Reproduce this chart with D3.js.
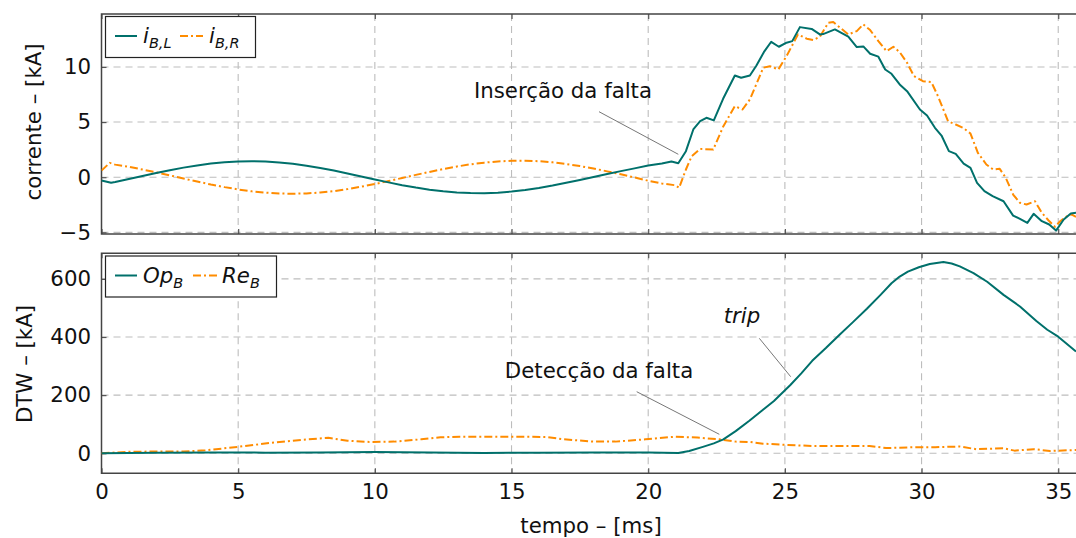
<!DOCTYPE html>
<html>
<head>
<meta charset="utf-8">
<script src="https://cdn.jsdelivr.net/npm/d3@7/dist/d3.min.js"></script>
<style>
  html, body { margin: 0; padding: 0; background: #fff; }
  svg { display: block; font-family: "DejaVu Sans", sans-serif; }
</style>
</head>
<body>
<svg id="chart" width="1076" height="538"></svg>
<script>
// Time axis [ms]
const xTicks = [0, 5, 10, 15, 20, 25, 30, 35];
const yTicksTop = [-5, 0, 5, 10];
const yTicksBottom = [0, 200, 400, 600];

// Currents on bus B, left and right terminals [kA] -> [t, value]
const iBL = [
  [0, -0.30], [0.35, -0.50], [0.5, -0.43], [1.0, -0.16], [1.5, 0.11], [2.0, 0.38], [2.5, 0.64],
  [3.0, 0.87], [3.5, 1.07], [4.0, 1.24], [4.5, 1.36], [5.0, 1.43], [5.5, 1.45], [6.0, 1.42],
  [6.5, 1.34], [7.0, 1.21], [7.5, 1.04], [8.0, 0.83], [8.5, 0.60], [9.0, 0.34], [9.5, 0.07],
  [10.0, -0.20], [10.5, -0.47], [11.0, -0.72], [11.5, -0.94], [12.0, -1.13], [12.5, -1.28],
  [13.0, -1.39], [13.5, -1.44], [14.0, -1.45], [14.5, -1.40], [15.0, -1.30], [15.5, -1.16],
  [16.0, -0.98], [16.5, -0.76], [17.0, -0.51], [17.5, -0.25], [18.0, 0.02], [18.5, 0.29],
  [19.0, 0.55], [19.5, 0.80], [20.0, 1.06], [20.5, 1.24], [20.85, 1.42], [21.1, 1.27],
  [21.38, 2.36], [21.65, 4.33], [21.9, 5.08], [22.13, 5.39], [22.4, 5.15], [22.74, 7.11],
  [23.17, 9.22], [23.4, 9.02], [23.72, 9.22], [23.96, 10.13], [24.23, 11.34], [24.5, 12.28],
  [24.78, 11.83], [25.06, 12.2], [25.27, 12.34], [25.55, 13.61], [25.98, 13.45], [26.28, 12.95],
  [26.4, 12.98], [26.83, 13.4], [27.32, 12.74], [27.63, 11.8], [27.87, 11.86], [28.12, 11.2],
  [28.42, 10.93], [28.67, 9.77], [28.9, 9.38], [29.2, 8.41], [29.47, 7.8], [29.94, 6.14],
  [30.2, 5.6], [30.49, 4.48], [30.73, 3.78], [31.0, 2.36], [31.25, 2.12], [31.54, 1.24],
  [31.79, 0.85], [32.03, -0.51], [32.3, -1.27], [32.6, -1.72], [33.0, -2.18], [33.35, -3.48],
  [33.6, -3.78], [33.87, -4.14], [34.1, -3.32], [34.4, -3.99], [34.67, -4.29], [34.92, -4.84],
  [35.2, -3.84], [35.46, -3.29], [35.65, -3.23]
];
const iBR = [
  [0, 0.60], [0.3, 1.30], [0.5, 1.14], [1.0, 0.94], [1.5, 0.70], [2.0, 0.44], [2.5, 0.17],
  [3.0, -0.12], [3.5, -0.39], [4.0, -0.66], [4.5, -0.90], [5.0, -1.11], [5.5, -1.28], [6.0, -1.40],
  [6.5, -1.48], [7.0, -1.50], [7.5, -1.47], [8.0, -1.39], [8.5, -1.26], [9.0, -1.08], [9.5, -0.86],
  [10.0, -0.62], [10.5, -0.35], [11.0, -0.07], [11.5, 0.21], [12.0, 0.48], [12.5, 0.74],
  [13.0, 0.97], [13.5, 1.17], [14.0, 1.32], [14.5, 1.43], [15.0, 1.49], [15.5, 1.50], [16.0, 1.45],
  [16.5, 1.35], [17.0, 1.20], [17.5, 1.01], [18.0, 0.79], [18.5, 0.53], [19.0, 0.26], [19.5, -0.02],
  [20.0, -0.32], [20.5, -0.57], [20.99, -0.73], [21.13, -0.96], [21.38, 0.70], [21.59, 1.90],
  [21.9, 2.57], [22.38, 2.51], [22.75, 4.63], [23.17, 6.44], [23.45, 6.14], [23.72, 7.05],
  [24.21, 9.93], [24.45, 10.07], [24.76, 9.77], [25.06, 10.98], [25.48, 12.95], [25.8, 12.56],
  [26.04, 12.43], [26.28, 12.74], [26.59, 14.0], [26.77, 14.07], [27.0, 13.6], [27.32, 12.95],
  [27.63, 13.25], [27.87, 13.86], [28.12, 13.34], [28.42, 12.34], [28.72, 11.43], [28.97, 11.83],
  [29.2, 11.34], [29.47, 10.38], [29.72, 9.17], [30.05, 8.71], [30.36, 8.62], [30.6, 7.35],
  [30.97, 5.08], [31.25, 4.78], [31.52, 4.48], [31.79, 3.96], [32.06, 2.21], [32.37, 1.15],
  [32.62, 0.70], [32.86, 0.76], [33.08, -0.05], [33.35, -1.57], [33.6, -2.32], [33.84, -2.48],
  [34.15, -2.18], [34.4, -3.23], [34.64, -3.9], [34.88, -4.5], [35.07, -3.99], [35.32, -3.54],
  [35.5, -3.39], [35.65, -3.6]
];

// DTW distances: operating and restraint quantities [kA]
const opB = [
  [0, 0], [1, 1], [2, 2], [4, 3], [6, 2], [8, 3], [10, 4], [12, 3], [14, 1], [16, 2], [18, 3],
  [20, 3], [21.1, 1], [21.5, 8], [22.0, 22], [22.4, 34], [22.75, 48], [23.2, 76], [23.7, 112],
  [24.2, 150], [24.6, 180], [25.2, 235], [25.6, 275], [26.0, 318], [26.5, 362], [27.0, 408],
  [27.5, 452], [28.0, 497], [28.5, 545], [28.9, 585], [29.2, 608], [29.5, 625], [29.9, 640],
  [30.3, 651], [30.8, 658], [31.1, 653], [31.4, 643], [31.9, 620], [32.4, 590], [33.0, 545],
  [33.6, 505], [34.2, 455], [34.6, 425], [35.0, 401], [35.65, 350]
];
const reB = [
  [0, 0], [1, 5], [2, 6], [3, 6], [3.8, 10], [5.0, 22], [6.2, 36], [7.3, 46], [8.3, 53], [9.0, 43],
  [9.8, 39], [10.7, 40], [11.7, 48], [12.4, 55], [13.1, 57], [14, 57], [15, 57], [16.3, 56],
  [16.9, 48], [18.0, 40], [18.8, 40], [19.9, 48], [21.0, 57], [21.8, 54], [22.6, 48], [23.2, 40],
  [23.7, 39], [24.2, 33], [25.0, 29], [26.0, 25], [27.0, 25], [28.1, 25], [28.7, 18], [29.9, 21],
  [30.5, 21], [31.4, 23], [32.0, 14], [33.0, 17], [33.4, 9], [34.1, 14], [34.7, 8], [35.65, 11]
];

const TEAL = "#00706b";
const ORANGE = "#ff8c00";
const DASHDOT = "8,3,2,3";
const FS = 21.3;

const svg = d3.select("#chart");
const W = 1076;

const x = d3.scaleLinear().domain([0, 35.65]).range([101.5, 1076]);
const yTop = d3.scaleLinear().domain([-5.15, 14.8]).range([234, 14]);
const yBot = d3.scaleLinear().domain([-69, 688]).range([473.3, 253.3]);

function panel(y, yTicks, showXLabels, id) {
  const [y0, y1] = y.range();       // bottom, top
  const g = svg.append("g");

  g.append("clipPath").attr("id", id)
    .append("rect").attr("x", x.range()[0]).attr("y", y1)
    .attr("width", W - x.range()[0]).attr("height", y0 - y1);

  // dashed grid
  const grid = g.append("g").attr("stroke", "#bdbdbd").attr("stroke-width", 1.1)
    .attr("stroke-dasharray", "7,5");
  grid.selectAll(".vx").data(xTicks.filter(d => d > 0)).join("line")
    .attr("x1", d => x(d)).attr("x2", d => x(d)).attr("y1", y1).attr("y2", y0);
  grid.selectAll(".hy").data(yTicks).join("line")
    .attr("x1", x.range()[0]).attr("x2", W).attr("y1", d => y(d)).attr("y2", d => y(d));

  // axes with inward ticks
  const xb = g.append("g").attr("transform", `translate(0,${y0})`)
    .call(d3.axisBottom(x).tickValues(xTicks).tickSize(-5).tickSizeOuter(0).tickPadding(11));
  const xt = g.append("g").attr("transform", `translate(0,${y1})`)
    .call(d3.axisTop(x).tickValues(xTicks).tickSize(-5).tickSizeOuter(0).tickFormat(""));
  const yl = g.append("g").attr("transform", `translate(${x.range()[0]},0)`)
    .call(d3.axisLeft(y).tickValues(yTicks).tickSize(-5).tickSizeOuter(0).tickPadding(10.5)
      .tickFormat(d => d < 0 ? "\u2212" + Math.abs(d) : d));
  [xb, xt, yl].forEach(a => {
    a.select(".domain").remove();
    a.selectAll(".tick line").attr("stroke", "#555").attr("stroke-width", 1.2);
    a.selectAll(".tick text").attr("font-size", FS).attr("fill", "#111")
      .attr("font-family", "DejaVu Sans, sans-serif");
  });
  if (!showXLabels) xb.selectAll(".tick text").remove();

  // frame (right side lies outside the visible area)
  g.append("path")
    .attr("d", `M${W + 20},${y1}H${x.range()[0]}V${y0}H${W + 20}`)
    .attr("fill", "none").attr("stroke", "#444").attr("stroke-width", 1.5);

  return g.append("g").attr("clip-path", `url(#${id})`);
}

function drawLine(layer, data, y, color, dash) {
  const line = d3.line().x(d => x(d[0])).y(d => y(d[1]));
  layer.append("path").datum(data)
    .attr("d", line)
    .attr("fill", "none")
    .attr("stroke", color)
    .attr("stroke-width", 2)
    .attr("stroke-linejoin", "round")
    .attr("stroke-dasharray", dash || null);
}

const topLayer = panel(yTop, yTicksTop, false, "clipTop");
drawLine(topLayer, iBR, yTop, ORANGE, DASHDOT);
drawLine(topLayer, iBL, yTop, TEAL);

const botLayer = panel(yBot, yTicksBottom, true, "clipBot");
drawLine(botLayer, reB, yBot, ORANGE, DASHDOT);
drawLine(botLayer, opB, yBot, TEAL);

// annotations
function note(text, tx, ty, lx1, ly1, lx2, ly2, italic) {
  svg.append("line").attr("x1", lx1).attr("y1", ly1).attr("x2", lx2).attr("y2", ly2)
    .attr("stroke", "#777").attr("stroke-width", 1);
  svg.append("text").attr("x", tx).attr("y", ty).attr("text-anchor", "middle")
    .attr("font-size", FS).attr("fill", "#111")
    .attr("font-style", italic ? "italic" : "normal").text(text);
}
note("Inserção da falta", 563, 98, 599, 111.7, 678.3, 154.3);
note("Detecção da falta", 599, 378, 636.7, 391.7, 719.3, 434.3);
note("trip", 742, 323, 759.3, 338.3, 790.7, 376.7, true);

// legends
function legend(bx, by, bw, items) {
  const g = svg.append("g");
  g.append("rect").attr("x", bx).attr("y", by).attr("width", bw).attr("height", 41)
    .attr("fill", "#fff").attr("stroke", "#222").attr("stroke-width", 1.2);
  items.forEach(it => {
    g.append("line").attr("x1", it.l1).attr("x2", it.l2).attr("y1", by + 19.5).attr("y2", by + 19.5)
      .attr("stroke", it.color).attr("stroke-width", 2).attr("stroke-dasharray", it.dash || null);
    const t = g.append("text").attr("x", it.tx).attr("y", by + 26.5)
      .attr("font-size", FS).attr("font-style", "italic").attr("fill", "#111");
    t.append("tspan").text(it.main);
    t.append("tspan").attr("font-size", 14.5).attr("dy", 5).text(it.sub);
  });
}
legend(105.5, 16.5, 150, [
  { l1: 115, l2: 137, tx: 143, main: "i", sub: "B,L", color: TEAL },
  { l1: 180, l2: 203, tx: 209, main: "i", sub: "B,R", color: ORANGE, dash: DASHDOT }
]);
legend(105.5, 256, 171, [
  { l1: 115, l2: 137, tx: 143, main: "Op", sub: "B", color: TEAL },
  { l1: 193, l2: 218, tx: 222, main: "Re", sub: "B", color: ORANGE, dash: DASHDOT }
]);

// axis titles
svg.append("text").attr("transform", "translate(41,122) rotate(-90)")
  .attr("text-anchor", "middle").attr("font-size", FS).attr("fill", "#111")
  .text("corrente – [kA]");
svg.append("text").attr("transform", "translate(32,364) rotate(-90)")
  .attr("text-anchor", "middle").attr("font-size", FS).attr("fill", "#111")
  .text("DTW – [kA]");
svg.append("text").attr("x", 591).attr("y", 533)
  .attr("text-anchor", "middle").attr("font-size", FS).attr("fill", "#111")
  .text("tempo – [ms]");
</script>
</body>
</html>
